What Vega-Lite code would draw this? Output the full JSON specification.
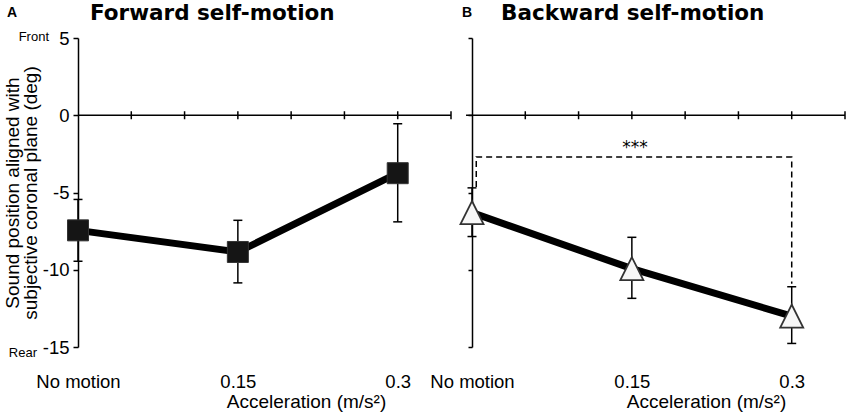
{
  "$schema": "https://vega.github.io/schema/vega-lite/v6.json",
  "background": "white",
  "padding": {"left": 3, "top": 2, "right": 2, "bottom": 2},
  "bounds": "flush",
  "spacing": 21,
  "datasets": {
    "forward": [
      {"condition": "No motion", "accel": 0, "mean": -7.45, "lo": -9.45, "hi": -5.45},
      {"condition": "0.15", "accel": 0.15, "mean": -8.85, "lo": -10.85, "hi": -6.8},
      {"condition": "0.3", "accel": 0.3, "mean": -3.75, "lo": -6.9, "hi": -0.55}
    ],
    "backward": [
      {"condition": "No motion", "accel": 0, "mean": -6.3, "lo": -7.85, "hi": -4.7},
      {"condition": "0.15", "accel": 0.15, "mean": -9.93, "lo": -11.85, "hi": -7.9},
      {"condition": "0.3", "accel": 0.3, "mean": -13.0, "lo": -14.77, "hi": -11.1}
    ],
    "zeroTicks": [
      {"t": 0.05}, {"t": 0.1}, {"t": 0.15}, {"t": 0.2},
      {"t": 0.25}, {"t": 0.3}, {"t": 0.35}
    ],
    "bracket": [
      {"step": 1, "accel": 0.004, "y": -4.65},
      {"step": 2, "accel": 0.004, "y": -2.7},
      {"step": 3, "accel": 0.3, "y": -2.7},
      {"step": 4, "accel": 0.3, "y": -10.9}
    ],
    "one": [{}]
  },
  "hconcat": [
    {
      "width": 373,
      "height": 309,
      "title": {
        "text": "Forward self-motion",
        "anchor": "start",
        "frame": "group",
        "dx": 12,
        "offset": -35.5,
        "baseline": "alphabetic",
        "font": "DejaVu Sans",
        "fontSize": 21.5,
        "fontWeight": "bold",
        "color": "black"
      },
      "layer": [
        {
          "data": {"name": "forward"},
          "mark": {"type": "line", "color": "black", "strokeWidth": 7},
          "encoding": {
            "x": {
              "field": "accel",
              "type": "quantitative",
              "scale": {"domain": [0, 0.35], "nice": false, "zero": false},
              "axis": {
                "values": [0, 0.15, 0.3],
                "labelExpr": "datum.value == 0 ? 'No motion' : datum.value == 0.15 ? '0.15' : '0.3'",
                "domain": false,
                "ticks": false,
                "grid": false,
                "labelFlush": false,
                "labelOverlap": false,
                "labelFont": "Liberation Sans",
                "labelFontSize": 18.5,
                "labelColor": "black",
                "labelPadding": 25,
                "title": "Acceleration (m/s²)",
                "titleFont": "Liberation Sans",
                "titleFontSize": 19,
                "titleFontWeight": "normal",
                "titleColor": "black",
                "titleX": 228,
                "titleY": 60,
                "titleAlign": "center",
                "titleBaseline": "alphabetic"
              }
            },
            "y": {
              "field": "mean",
              "type": "quantitative",
              "scale": {"domain": [-15, 5], "nice": false, "zero": false},
              "axis": {
                "values": [5, 0, -5, -10, -15],
                "labelExpr": "'' + datum.value",
                "grid": false,
                "domainColor": "black",
                "domainWidth": 1.5,
                "tickColor": "black",
                "tickWidth": 1.5,
                "tickSize": 5,
                "labelFont": "Liberation Sans",
                "labelFontSize": 18.5,
                "labelColor": "black",
                "labelPadding": 4,
                "title": ["Sound position aligned with", "subjective coronal plane (deg)"],
                "titleFont": "Liberation Sans",
                "titleFontSize": 19,
                "titleFontWeight": "normal",
                "titleColor": "black",
                "titleLineHeight": 18,
                "titlePadding": 2
              }
            }
          }
        },
        {
          "data": {"name": "one"},
          "mark": {"type": "rule", "color": "black", "strokeWidth": 1.5},
          "encoding": {
            "x": {"datum": 0, "type": "quantitative"},
            "x2": {"datum": 0.35},
            "y": {"datum": 0, "type": "quantitative"}
          }
        },
        {
          "data": {"name": "zeroTicks"},
          "mark": {"type": "tick", "orient": "vertical", "size": 8, "thickness": 1.5, "color": "black", "opacity": 1},
          "encoding": {
            "x": {"field": "t", "type": "quantitative"},
            "y": {"datum": 0, "type": "quantitative"}
          }
        },
        {
          "data": {"name": "forward"},
          "mark": {"type": "rule", "color": "black", "strokeWidth": 1.5},
          "encoding": {
            "x": {"field": "accel", "type": "quantitative"},
            "y": {"field": "lo", "type": "quantitative"},
            "y2": {"field": "hi"}
          }
        },
        {
          "data": {"name": "forward"},
          "mark": {"type": "tick", "orient": "horizontal", "size": 9, "thickness": 1.5, "color": "black", "opacity": 1},
          "encoding": {
            "x": {"field": "accel", "type": "quantitative"},
            "y": {"field": "lo", "type": "quantitative"}
          }
        },
        {
          "data": {"name": "forward"},
          "mark": {"type": "tick", "orient": "horizontal", "size": 9, "thickness": 1.5, "color": "black", "opacity": 1},
          "encoding": {
            "x": {"field": "accel", "type": "quantitative"},
            "y": {"field": "hi", "type": "quantitative"}
          }
        },
        {
          "data": {"name": "forward"},
          "mark": {"type": "point", "shape": "square", "filled": true, "size": 441, "color": "#151515", "stroke": "#333", "strokeWidth": 1, "opacity": 1},
          "encoding": {
            "x": {"field": "accel", "type": "quantitative"},
            "y": {"field": "mean", "type": "quantitative"}
          }
        },
        {
          "data": {"name": "one"},
          "mark": {"type": "text", "text": "A", "font": "Liberation Sans", "fontSize": 14, "fontWeight": "bold", "align": "left", "baseline": "alphabetic", "color": "black"},
          "encoding": {
            "x": {"datum": -0.0666, "type": "quantitative"},
            "y": {"datum": 6.36, "type": "quantitative"}
          }
        },
        {
          "data": {"name": "one"},
          "mark": {"type": "text", "text": "Front", "font": "Liberation Sans", "fontSize": 13, "align": "right", "baseline": "alphabetic", "color": "black"},
          "encoding": {
            "x": {"datum": -0.0272, "type": "quantitative"},
            "y": {"datum": 4.8, "type": "quantitative"}
          }
        },
        {
          "data": {"name": "one"},
          "mark": {"type": "text", "text": "Rear", "font": "Liberation Sans", "fontSize": 13, "align": "right", "baseline": "alphabetic", "color": "black"},
          "encoding": {
            "x": {"datum": -0.0385, "type": "quantitative"},
            "y": {"datum": -15.65, "type": "quantitative"}
          }
        }
      ]
    },
    {
      "width": 373,
      "height": 309,
      "title": {
        "text": "Backward self-motion",
        "anchor": "start",
        "frame": "group",
        "dx": 29,
        "offset": -35.5,
        "baseline": "alphabetic",
        "font": "DejaVu Sans",
        "fontSize": 21.5,
        "fontWeight": "bold",
        "color": "black"
      },
      "layer": [
        {
          "data": {"name": "backward"},
          "mark": {"type": "line", "color": "black", "strokeWidth": 7},
          "encoding": {
            "x": {
              "field": "accel",
              "type": "quantitative",
              "scale": {"domain": [0, 0.35], "nice": false, "zero": false},
              "axis": {
                "values": [0, 0.15, 0.3],
                "labelExpr": "datum.value == 0 ? 'No motion' : datum.value == 0.15 ? '0.15' : '0.3'",
                "domain": false,
                "ticks": false,
                "grid": false,
                "labelFlush": false,
                "labelOverlap": false,
                "labelFont": "Liberation Sans",
                "labelFontSize": 18.5,
                "labelColor": "black",
                "labelPadding": 25,
                "title": "Acceleration (m/s²)",
                "titleFont": "Liberation Sans",
                "titleFontSize": 19,
                "titleFontWeight": "normal",
                "titleColor": "black",
                "titleX": 234,
                "titleY": 60,
                "titleAlign": "center",
                "titleBaseline": "alphabetic"
              }
            },
            "y": {
              "field": "mean",
              "type": "quantitative",
              "scale": {"domain": [-15, 5], "nice": false, "zero": false},
              "axis": {
                "values": [5, 0, -5, -10, -15],
                "labels": false,
                "title": null,
                "grid": false,
                "domainColor": "black",
                "domainWidth": 1.5,
                "tickColor": "black",
                "tickWidth": 1.5,
                "tickSize": 4
              }
            }
          }
        },
        {
          "data": {"name": "one"},
          "mark": {"type": "rule", "color": "black", "strokeWidth": 1.5},
          "encoding": {
            "x": {"datum": -0.0056, "type": "quantitative"},
            "x2": {"datum": 0.35},
            "y": {"datum": 0, "type": "quantitative"}
          }
        },
        {
          "data": {"name": "zeroTicks"},
          "mark": {"type": "tick", "orient": "vertical", "size": 8, "thickness": 1.5, "color": "black", "opacity": 1},
          "encoding": {
            "x": {"field": "t", "type": "quantitative"},
            "y": {"datum": 0, "type": "quantitative"}
          }
        },
        {
          "data": {"name": "bracket"},
          "mark": {"type": "line", "color": "black", "strokeWidth": 1.5, "strokeDash": [6, 4]},
          "encoding": {
            "x": {"field": "accel", "type": "quantitative"},
            "y": {"field": "y", "type": "quantitative"},
            "order": {"field": "step"}
          }
        },
        {
          "data": {"name": "one"},
          "mark": {"type": "text", "text": "***", "font": "DejaVu Sans", "fontSize": 17, "align": "center", "baseline": "alphabetic", "color": "black"},
          "encoding": {
            "x": {"datum": 0.153, "type": "quantitative"},
            "y": {"datum": -2.45, "type": "quantitative"}
          }
        },
        {
          "data": {"name": "backward"},
          "mark": {"type": "rule", "color": "black", "strokeWidth": 1.5},
          "encoding": {
            "x": {"field": "accel", "type": "quantitative"},
            "y": {"field": "lo", "type": "quantitative"},
            "y2": {"field": "hi"}
          }
        },
        {
          "data": {"name": "backward"},
          "mark": {"type": "tick", "orient": "horizontal", "size": 9, "thickness": 1.5, "color": "black", "opacity": 1},
          "encoding": {
            "x": {"field": "accel", "type": "quantitative"},
            "y": {"field": "lo", "type": "quantitative"}
          }
        },
        {
          "data": {"name": "backward"},
          "mark": {"type": "tick", "orient": "horizontal", "size": 9, "thickness": 1.5, "color": "black", "opacity": 1},
          "encoding": {
            "x": {"field": "accel", "type": "quantitative"},
            "y": {"field": "hi", "type": "quantitative"}
          }
        },
        {
          "data": {"name": "backward"},
          "mark": {"type": "point", "shape": "M0,-1L-1,1L1,1Z", "filled": true, "size": 529, "fill": "#f7f7f7", "stroke": "#333", "strokeWidth": 1.8, "opacity": 1},
          "encoding": {
            "x": {"field": "accel", "type": "quantitative"},
            "y": {"field": "mean", "type": "quantitative"}
          }
        },
        {
          "data": {"name": "one"},
          "mark": {"type": "text", "text": "B", "font": "Liberation Sans", "fontSize": 14, "fontWeight": "bold", "align": "left", "baseline": "alphabetic", "color": "black"},
          "encoding": {
            "x": {"datum": -0.0094, "type": "quantitative"},
            "y": {"datum": 6.36, "type": "quantitative"}
          }
        }
      ]
    }
  ],
  "config": {
    "view": {"stroke": null}
  }
}
